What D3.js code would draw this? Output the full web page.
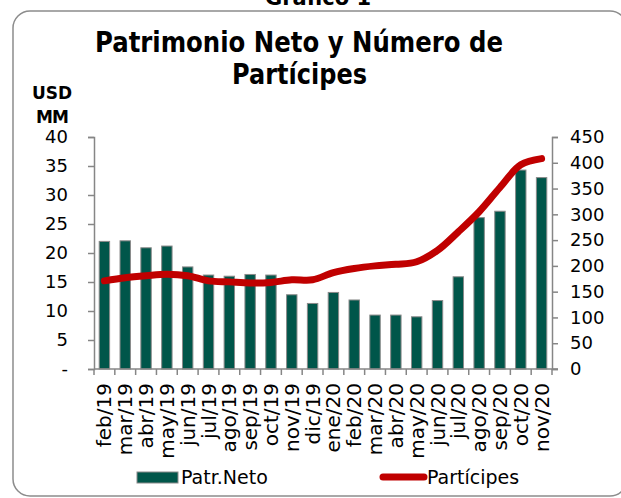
<!DOCTYPE html>
<html>
<head>
<meta charset="utf-8">
<script src="https://cdn.jsdelivr.net/npm/d3@7"></script>
<style>
  html, body { margin: 0; padding: 0; background: #fff; }
  svg { display: block; }
  text { font-family: "DejaVu Sans", sans-serif; fill: #000; }
</style>
</head>
<body>
<svg id="chart" width="621" height="498"></svg>
<script>
const categories = ["feb/19","mar/19","abr/19","may/19","jun/19","jul/19","ago/19","sep/19","oct/19","nov/19","dic/19","ene/20","feb/20","mar/20","abr/20","may/20","jun/20","jul/20","ago/20","sep/20","oct/20","nov/20"];
const patrNeto = [22.0, 22.1, 20.9, 21.2, 17.6, 16.2, 16.0, 16.3, 16.2, 12.8, 11.3, 13.2, 11.9, 9.3, 9.3, 9.0, 11.8, 15.9, 26.1, 27.2, 34.3, 33.0];
const participes = [171, 177, 181, 184, 181, 171, 169, 167, 168, 173, 173, 187, 195, 200, 203, 208, 230, 266, 305, 352, 396, 408];
const leftTicks = [0, 5, 10, 15, 20, 25, 30, 35, 40];
const leftTickLabels = ["-", "5", "10", "15", "20", "25", "30", "35", "40"];
const rightTicks = [0, 50, 100, 150, 200, 250, 300, 350, 400, 450];
const seriesNames = ["Patr.Neto", "Partícipes"];
const titleLines = ["Patrimonio Neto y Número de", "Partícipes"];

const svg = d3.select("#chart");
const axisColor = "#868686";
const barColor = "#00564A";
const lineColor = "#C00000";

const plot = { left: 94, right: 552, top: 137, bottom: 369 };

// frame
svg.append("rect")
  .attr("x", 13).attr("y", 11).attr("width", 614).attr("height", 485)
  .attr("rx", 17).attr("ry", 17)
  .attr("fill", "none").attr("stroke", "#8c8c8c").attr("stroke-width", 1.5);

// top clipped caption
svg.append("text")
  .attr("x", 318).attr("y", 5)
  .attr("text-anchor", "middle")
  .attr("font-size", 21).attr("font-weight", "bold")
  .text("Gráfico 1");

// title
svg.append("text")
  .attr("x", 95).attr("y", 52)
  .attr("font-size", 28).attr("font-weight", "bold")
  .attr("textLength", 408).attr("lengthAdjust", "spacingAndGlyphs")
  .text(titleLines[0]);
svg.append("text")
  .attr("x", 232).attr("y", 84)
  .attr("font-size", 28).attr("font-weight", "bold")
  .attr("textLength", 135).attr("lengthAdjust", "spacingAndGlyphs")
  .text(titleLines[1]);

// unit label
svg.append("text").attr("x", 52).attr("y", 99).attr("text-anchor", "middle")
  .attr("font-size", 17).attr("font-weight", "bold").text("USD");
svg.append("text").attr("x", 52).attr("y", 123).attr("text-anchor", "middle")
  .attr("font-size", 17).attr("font-weight", "bold").attr("letter-spacing", -1).text("MM");

// scales
const x = d3.scaleBand().domain(categories).range([plot.left, plot.right]).paddingInner(0).paddingOuter(0);
const yL = d3.scaleLinear().domain([0, 40]).range([plot.bottom, plot.top]);
const yR = d3.scaleLinear().domain([0, 450]).range([plot.bottom, plot.top]);

// bars
const barW = x.bandwidth() * 0.5;
svg.append("g").selectAll("rect").data(patrNeto).join("rect")
  .attr("x", (d, i) => x(categories[i]) + (x.bandwidth() - barW) / 2)
  .attr("y", d => yL(d))
  .attr("width", barW)
  .attr("height", d => yL(0) - yL(d))
  .attr("fill", barColor)
  .attr("stroke", "#8a8a8a").attr("stroke-width", 1);

// line
const line = d3.line()
  .x((d, i) => x(categories[i]) + x.bandwidth() / 2)
  .y(d => yR(d))
  .curve(d3.curveCatmullRom.alpha(0.5));
svg.append("path").datum(participes)
  .attr("d", line)
  .attr("fill", "none").attr("stroke", lineColor)
  .attr("stroke-width", 7).attr("stroke-linecap", "round").attr("stroke-linejoin", "round");

// left axis
const gL = svg.append("g").attr("transform", `translate(${plot.left},0)`)
  .call(d3.axisLeft(yL).tickValues(leftTicks).tickFormat((d, i) => leftTickLabels[i]).tickSize(6).tickPadding(20));
gL.select(".domain").attr("stroke", axisColor).attr("stroke-width", 1.5);
gL.selectAll(".tick line").attr("stroke", axisColor).attr("stroke-width", 1.5);
gL.selectAll(".tick text").attr("font-size", 18).attr("font-family", "DejaVu Sans").attr("fill", "#000");

// right axis
const gR = svg.append("g").attr("transform", `translate(${plot.right},0)`)
  .call(d3.axisRight(yR).tickValues(rightTicks).tickSize(6).tickPadding(12));
gR.select(".domain").attr("stroke", axisColor).attr("stroke-width", 1.5);
gR.selectAll(".tick line").attr("stroke", axisColor).attr("stroke-width", 1.5);
gR.selectAll(".tick text").attr("font-size", 18).attr("font-family", "DejaVu Sans").attr("fill", "#000");

// x axis
const gX = svg.append("g").attr("transform", `translate(0,${plot.bottom})`);
gX.append("line").attr("x1", plot.left).attr("x2", plot.right + 6).attr("y1", 0).attr("y2", 0)
  .attr("stroke", axisColor).attr("stroke-width", 1.5);
const bounds = categories.map(c => x(c)).concat([plot.right]);
gX.selectAll("line.tk").data(bounds).join("line").attr("class", "tk")
  .attr("x1", d => d).attr("x2", d => d).attr("y1", 0).attr("y2", 6)
  .attr("stroke", axisColor).attr("stroke-width", 1.5);
gX.selectAll("text").data(categories).join("text")
  .attr("transform", d => `translate(${x(d) + x.bandwidth() / 2 + 7},14) rotate(-90)`)
  .attr("text-anchor", "end")
  .attr("font-size", 20)
  .text(d => d);

// legend
const lg = svg.append("g");
lg.append("rect").attr("x", 137).attr("y", 472).attr("width", 41).attr("height", 11)
  .attr("fill", barColor).attr("stroke", "#8a8a8a").attr("stroke-width", 1);
lg.append("text").attr("x", 181).attr("y", 484).attr("font-size", 19).text(seriesNames[0]);
lg.append("line").attr("x1", 383).attr("x2", 424).attr("y1", 477).attr("y2", 477)
  .attr("stroke", lineColor).attr("stroke-width", 7).attr("stroke-linecap", "round");
lg.append("text").attr("x", 427).attr("y", 484).attr("font-size", 19).text(seriesNames[1]);
</script>
</body>
</html>
